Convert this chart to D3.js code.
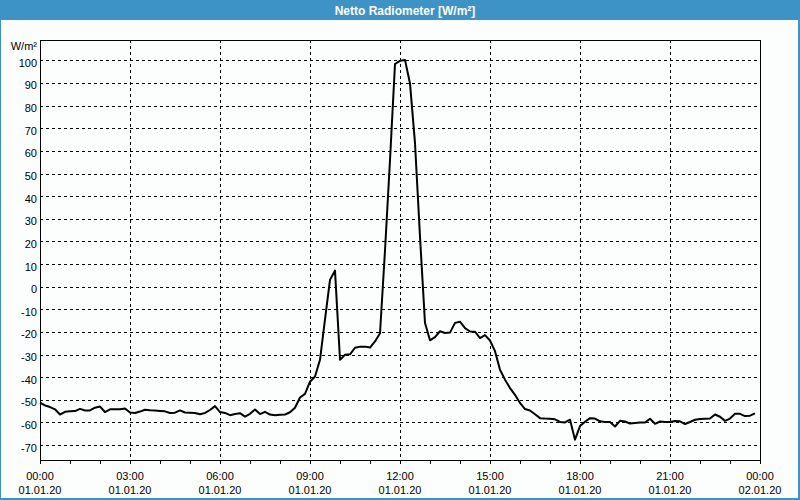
<!DOCTYPE html>
<html><head><meta charset="utf-8">
<script src="https://cdn.jsdelivr.net/npm/d3@7"></script>
<style>
body{margin:0;background:#fcfdfd}
svg{display:block}
text{font-family:"Liberation Sans",Arial,sans-serif}
</style>
</head><body>
<svg id="c" width="800" height="500"></svg>
<script>
const title = "Netto Radiometer [W/m²]";
const unit = "W/m²";
const yTicks = [100, 90, 80, 70, 60, 50, 40, 30, 20, 10, 0, -10, -20, -30, -40, -50, -60, -70];
const xTickHours = [0, 3, 6, 9, 12, 15, 18, 21, 24];
const xTimeLabels = ["00:00", "03:00", "06:00", "09:00", "12:00", "15:00", "18:00", "21:00", "00:00"];
const xDateLabels = ["01.01.20", "01.01.20", "01.01.20", "01.01.20", "01.01.20", "01.01.20", "01.01.20", "01.01.20", "02.01.20"];
const stepMinutes = 10;
const values = [
  -51.3, -52.5, -53.2, -54.2, -56.5, -55.3, -55.1, -55.0, -54.0, -54.7,
  -54.7, -53.5, -53.0, -55.4, -54.2, -54.2, -54.2, -53.8, -55.6, -55.8,
  -55.2, -54.4, -54.6, -54.7, -54.9, -55.1, -55.8, -55.7, -54.7, -55.6,
  -55.7, -55.8, -56.4, -55.8, -54.5, -52.8, -55.4, -55.8, -56.8, -56.3,
  -55.9, -57.4, -56.2, -54.3, -56.3, -55.3, -56.5, -56.8, -56.6, -56.5,
  -55.5, -53.5, -49.0, -47.4, -42.0, -39.7, -32.3, -14.5, 3.0, 7.1,
  -32.3, -30.1, -29.9, -27.0, -26.5, -26.5, -26.9, -24.2, -20.6, 16.0,
  56.0, 98.4, 99.8, 100.2, 89.8, 63.4, 22.1, -16.1, -23.7, -22.3,
  -19.7, -20.5, -20.3, -16.0, -15.5, -18.3, -19.8, -19.9, -22.7, -21.4,
  -23.8, -28.5, -36.7, -41.1, -44.8, -47.8, -51.4, -54.1, -54.7, -56.4,
  -58.1, -58.3, -58.4, -58.6, -59.8, -60.0, -58.8, -67.6, -61.6, -59.7,
  -58.1, -58.3, -59.5, -59.8, -59.8, -61.8, -59.3, -59.6, -60.5, -60.2,
  -60.0, -60.0, -58.4, -60.6, -59.6, -59.8, -59.8, -59.4, -59.5, -60.7,
  -59.8, -58.8, -58.5, -58.4, -58.3, -56.5, -57.5, -59.3, -58.3, -56.2,
  -56.2, -57.2, -57.0, -56.0
];

const W = 800, H = 500;
const plot = {left: 40, right: 760, top: 40, bottom: 460};
const svg = d3.select("#c");

// window frame
svg.append("rect").attr("x", 0).attr("y", 0).attr("width", W).attr("height", H).attr("fill", "#3d93c6");
svg.append("rect").attr("x", 1).attr("y", 20).attr("width", W - 3).attr("height", H - 22).attr("fill", "#fcfdfd");
svg.append("text").attr("x", 405).attr("y", 14.5).attr("text-anchor", "middle")
  .attr("fill", "#fff").attr("font-weight", "bold").attr("font-size", 12).text(title);

const x = d3.scaleLinear().domain([0, 24 * 60]).range([plot.left, plot.right]);
const y = d3.scaleLinear().domain([-76.6, 109]).range([plot.bottom, plot.top]);
const cy = v => Math.round(y(v)) + 0.5;
const cx = m => Math.round(x(m)) + 0.5;

const g = svg.append("g");
// horizontal grid
g.selectAll("line.hg").data(yTicks).join("line").attr("class", "hg")
  .attr("x1", plot.left).attr("x2", plot.right)
  .attr("y1", d => cy(d)).attr("y2", d => cy(d))
  .attr("stroke", "#000").attr("stroke-dasharray", "3,3").attr("shape-rendering", "crispEdges");
// vertical grid
g.selectAll("line.vg").data(xTickHours.slice(1, -1)).join("line").attr("class", "vg")
  .attr("x1", d => cx(d * 60)).attr("x2", d => cx(d * 60))
  .attr("y1", plot.top).attr("y2", plot.bottom)
  .attr("stroke", "#000").attr("stroke-dasharray", "3,3").attr("shape-rendering", "crispEdges");
// hourly ticks
g.selectAll("line.tk").data(d3.range(0, 25)).join("line").attr("class", "tk")
  .attr("x1", d => cx(d * 60)).attr("x2", d => cx(d * 60))
  .attr("y1", plot.bottom).attr("y2", plot.bottom + 3.5)
  .attr("stroke", "#000").attr("shape-rendering", "crispEdges");
// plot frame
g.append("rect").attr("x", plot.left + 0.5).attr("y", plot.top + 0.5)
  .attr("width", plot.right - plot.left).attr("height", plot.bottom - plot.top)
  .attr("fill", "none").attr("stroke", "#000").attr("shape-rendering", "crispEdges");

// y labels
g.selectAll("text.yl").data(yTicks).join("text").attr("class", "yl")
  .attr("x", 37).attr("y", d => y(d) + 6.5).attr("text-anchor", "end")
  .attr("font-size", 11).attr("fill", "#000").text(d => d);
g.append("text").attr("x", 37).attr("y", 50).attr("text-anchor", "end")
  .attr("font-size", 11).attr("fill", "#000").text(unit);

// x labels
g.selectAll("text.xt").data(xTickHours).join("text").attr("class", "xt")
  .attr("x", d => x(d * 60)).attr("y", 479.5).attr("text-anchor", "middle")
  .attr("font-size", 11).attr("fill", "#000").text((d, i) => xTimeLabels[i]);
g.selectAll("text.xd").data(xTickHours).join("text").attr("class", "xd")
  .attr("x", d => x(d * 60)).attr("y", 493.5).attr("text-anchor", "middle")
  .attr("font-size", 11).attr("fill", "#000").text((d, i) => xDateLabels[i]);

// series
const line = d3.line().x((d, i) => x(i * stepMinutes)).y(d => y(d));
svg.append("path").datum(values).attr("d", line)
  .attr("fill", "none").attr("stroke", "#000").attr("stroke-width", 2).attr("stroke-linejoin", "round");
</script>
</body></html>
